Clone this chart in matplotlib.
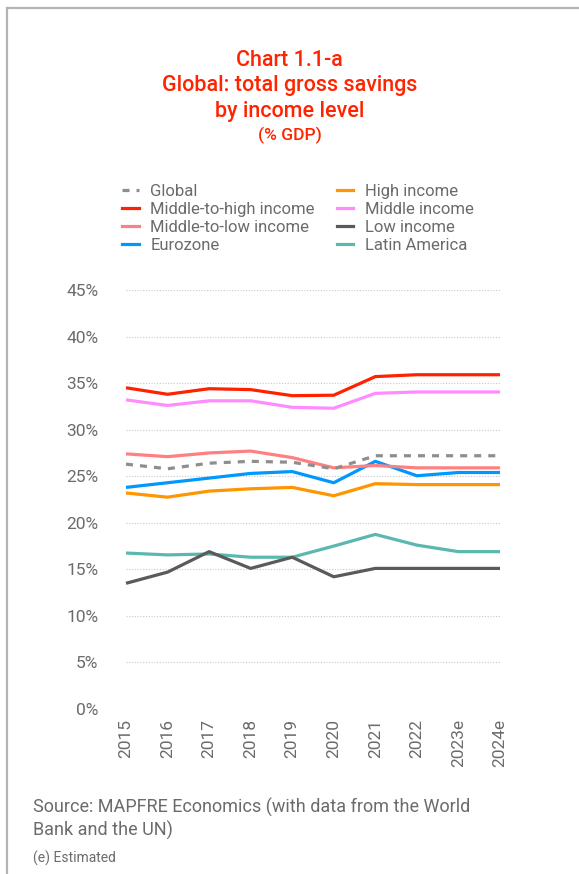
import numpy as np
import matplotlib
matplotlib.use("Agg")
import matplotlib.pyplot as plt
from matplotlib.lines import Line2D

plt.rcParams['font.family'] = ['Roboto', 'DejaVu Sans']

years = ["2015", "2016", "2017", "2018", "2019", "2020", "2021", "2022", "2023e", "2024e"]

global_avg = [26.3, 25.8, 26.4, 26.6, 26.5, 25.8, 27.2, 27.2, 27.2, 27.2]
high_income = [23.2, 22.75, 23.4, 23.65, 23.8, 22.9, 24.2, 24.1, 24.1, 24.1]
mid_high_income = [34.5, 33.8, 34.4, 34.3, 33.65, 33.7, 35.7, 35.9, 35.9, 35.9]
mid_income = [33.2, 32.6, 33.1, 33.1, 32.4, 32.3, 33.9, 34.05, 34.05, 34.05]
mid_low_income = [27.4, 27.1, 27.5, 27.7, 27.0, 25.9, 26.15, 25.9, 25.9, 25.9]
low_income = [13.5, 14.7, 16.9, 15.1, 16.3, 14.2, 15.1, 15.1, 15.1, 15.1]
eurozone = [23.8, 24.3, 24.8, 25.3, 25.5, 24.3, 26.6, 25.05, 25.4, 25.4]
latin_america = [16.75, 16.55, 16.65, 16.3, 16.3, 17.5, 18.75, 17.6, 16.9, 16.9]

TEXT = '#6b6b6b'
RED = '#ff2400'

series = {
    "Global": (global_avg, '#8e8e8e', (0, (2.2, 2.2))),
    "High income": (high_income, '#ff9500', '-'),
    "Middle-to-high income": (mid_high_income, '#ff2200', '-'),
    "Middle income": (mid_income, '#ff8cff', '-'),
    "Middle-to-low income": (mid_low_income, '#ff8080', '-'),
    "Low income": (low_income, '#5a5a5a', '-'),
    "Eurozone": (eurozone, '#0098ff', '-'),
    "Latin America": (latin_america, '#5ab8ae', '-'),
}


def main():
    fig = plt.figure(figsize=(5.79, 8.74), dpi=100)
    ax = fig.add_axes([126 / 579, 1 - 709 / 874, (500 - 126) / 579, (709 - 290) / 874])

    x = np.arange(len(years))
    # draw back-to-front so the dashed global line sits on top
    draw_order = ["Latin America", "Low income", "High income", "Eurozone",
                  "Middle-to-low income", "Middle income", "Middle-to-high income", "Global"]
    for z, name in enumerate(draw_order):
        vals, col, ls = series[name]
        ax.plot(x, vals, color=col, lw=2.3, ls=ls, clip_on=False,
                solid_capstyle='butt', dash_capstyle='butt', zorder=3 + z)

    ax.set_xlim(0, 9)
    ax.set_ylim(0, 45)
    ax.set_yticks(np.arange(0, 46, 5))
    ax.set_yticklabels([f"{v}%" for v in range(0, 46, 5)])
    ax.set_xticks(x)
    ax.set_xticklabels(years, rotation=90, va='top')
    ax.tick_params(length=0, labelsize=12.5, colors=TEXT)
    ax.tick_params(axis='y', pad=20)
    ax.tick_params(axis='x', pad=7)
    ax.grid(axis='y', color='#c8c8c8', lw=0.8, ls=(0, (1, 1.5)))
    for s in ax.spines.values():
        s.set_visible(False)

    # title block
    title_lines = [("Chart 1.1-a", 60, 15.5), ("Global: total gross savings", 86, 15.5),
                   ("by income level", 111, 15.5), ("(% GDP)", 135, 12.5)]
    for txt, ypix, fs in title_lines:
        fig.text(0.5, 1 - ypix / 874, txt, ha='center', va='center',
                 color=RED, fontsize=fs, fontweight='medium')

    # legend in two columns (matplotlib fills column by column)
    legend_order = ["Global", "Middle-to-high income", "Middle-to-low income", "Eurozone",
                    "High income", "Middle income", "Low income", "Latin America"]
    handles = []
    for name in legend_order:
        vals, col, ls = series[name]
        handles.append(Line2D([], [], color=col, lw=2.3, ls=ls))
    leg = fig.legend(handles, legend_order, ncol=2,
                     loc='upper left', bbox_to_anchor=(122 / 579, 1 - 184 / 874),
                     frameon=False, fontsize=12, handlelength=1.0, handletextpad=0.7,
                     columnspacing=1.3, labelspacing=0.18, borderaxespad=0, borderpad=0)
    for t in leg.get_texts():
        t.set_color(TEXT)

    fig.text(33 / 579, 1 - 807 / 874, "Source: MAPFRE Economics (with data from the World",
             ha='left', va='center', color=TEXT, fontsize=13)
    fig.text(33 / 579, 1 - 830 / 874, "Bank and the UN)",
             ha='left', va='center', color=TEXT, fontsize=13)
    fig.text(33 / 579, 1 - 858 / 874, "(e) Estimated",
             ha='left', va='center', color=TEXT, fontsize=10)

    # page frame on the left and top edges
    fig.add_artist(Line2D([7.5 / 579, 7.5 / 579], [0, 1 - 7.5 / 874],
                          color='#b4b4b4', lw=1.6, transform=fig.transFigure))
    fig.add_artist(Line2D([7.5 / 579, 1], [1 - 7.5 / 874, 1 - 7.5 / 874],
                          color='#b4b4b4', lw=1.6, transform=fig.transFigure))

    fig.savefig("out.png", dpi=100, facecolor='white')


if __name__ == "__main__":
    main()
